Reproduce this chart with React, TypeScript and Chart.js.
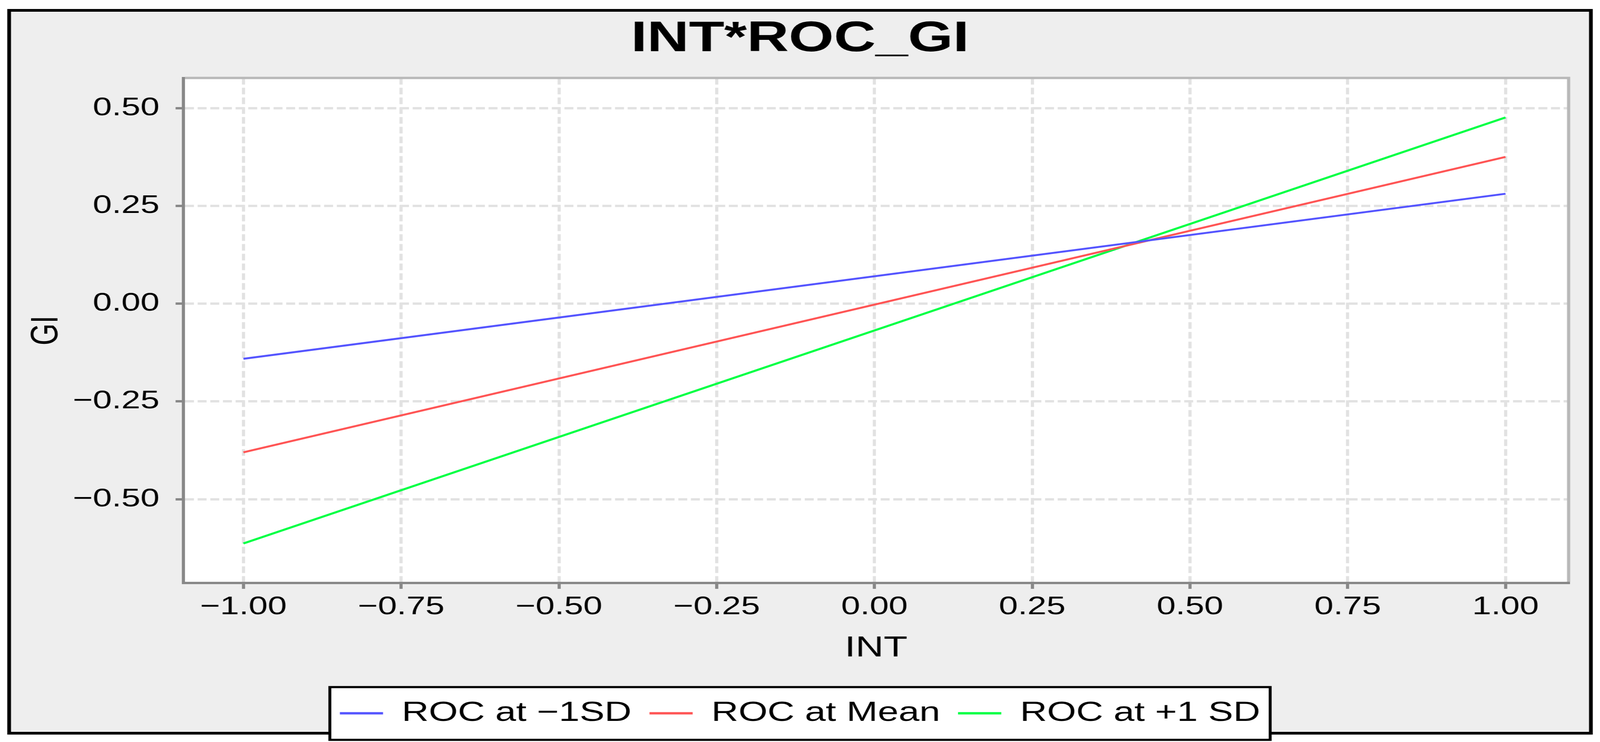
import React, { useEffect, useRef } from 'react';
import { Chart, registerables } from 'chart.js';

Chart.register(...registerables);

// ---------- data ----------
const chartTitle = 'INT*ROC_GI';
const xAxisTitle = 'INT';
const yAxisTitle = 'GI';
const intValues = [-1, 1];
const seriesNames = ['ROC at \u22121SD', 'ROC at Mean', 'ROC at +1 SD'];
const rocMinus1SD = [-0.141, 0.281];
const rocMean = [-0.38, 0.375];
const rocPlus1SD = [-0.613, 0.476];
const seriesColors = ['#5555ff', '#ff5555', '#00ff44'];
const xTickValues = [-1, -0.75, -0.5, -0.25, 0, 0.25, 0.5, 0.75, 1];
const yTickValues = [-0.5, -0.25, 0, 0.25, 0.5];
const xRange = [-1.095, 1.1];
const yRange = [-0.714, 0.577];

// ---------- drawing constants ----------
const CANVAS_W = 3036;
const CANVAS_H = 1899;
const FONT = "'Liberation Sans', Arial, sans-serif";

const fmt = (v: number) => (v < 0 ? '\u2212' : '') + Math.abs(v).toFixed(2);

const decorPlugin = {
  id: 'decor',
  beforeDraw(chart: any) {
    const { ctx, width, height, chartArea: a } = chart;
    ctx.save();
    ctx.fillStyle = '#ffffff';
    ctx.fillRect(0, 0, width, height);
    // outer frame
    ctx.fillStyle = '#eeeeee';
    ctx.fillRect(17.3, 26.5, 3001.4, 1850);
    ctx.lineWidth = 7;
    ctx.strokeStyle = '#000000';
    ctx.strokeRect(17.3, 26.5, 3001.4, 1850);
    // plot background
    ctx.fillStyle = '#ffffff';
    ctx.fillRect(a.left, a.top, a.right - a.left, a.bottom - a.top);
    // legend frame
    const hb = chart.legend && chart.legend.legendHitBoxes;
    if (hb && hb.length) {
      const l = Math.min(...hb.map((h: any) => h.left)) - 19;
      const r = Math.max(...hb.map((h: any) => h.left + h.width)) + 19;
      const t = hb[0].top - 31.5;
      const b = hb[0].top + 103.5;
      ctx.fillStyle = '#ffffff';
      ctx.fillRect(l, t, r - l, b - t);
      ctx.lineWidth = 5.5;
      ctx.strokeStyle = '#000000';
      ctx.strokeRect(l, t, r - l, b - t);
    }
    ctx.restore();
  },
  beforeDatasetsDraw(chart: any) {
    const { ctx, chartArea: a } = chart;
    ctx.save();
    ctx.strokeStyle = '#b8b8b8';
    ctx.lineWidth = 6;
    ctx.beginPath();
    ctx.moveTo(a.left + 3, a.top);
    ctx.lineTo(a.right, a.top);
    ctx.lineTo(a.right, a.bottom - 3);
    ctx.stroke();
    ctx.restore();
  },
};

export default function App() {
  const ref = useRef<HTMLCanvasElement | null>(null);

  useEffect(() => {
    if (!ref.current) return;
    const series = [rocMinus1SD, rocMean, rocPlus1SD];
    const dpr = Math.max(1, (window.devicePixelRatio || 1) * (window.innerHeight / CANVAS_H));
    const chart = new Chart(ref.current, {
      type: 'line',
      data: {
        datasets: series.map((vals, i) => ({
          label: seriesNames[i],
          data: intValues.map((x, j) => ({ x, y: vals[j] })),
          borderColor: seriesColors[i],
          backgroundColor: seriesColors[i],
          borderWidth: 5,
          pointRadius: 0,
          tension: 0,
          fill: false,
        })),
      },
      options: {
        responsive: false,
        devicePixelRatio: dpr,
        animation: false,
        events: [],
        layout: { autoPadding: false, padding: { top: 0, left: 30, right: 30, bottom: 28 } },
        plugins: {
          tooltip: { enabled: false },
          title: {
            display: true,
            text: chartTitle,
            color: '#000000',
            font: { family: FONT, size: 110, weight: 'bold', lineHeight: 1.2 },
            padding: { top: 34.5, bottom: 33 },
          },
          legend: {
            display: true,
            position: 'bottom',
            align: 'center',
            labels: {
              color: '#000000',
              font: { family: FONT, size: 71 },
              padding: 34,
              boxWidth: 82,
              boxHeight: 6,
              generateLabels: (c: any) =>
                Chart.defaults.plugins.legend.labels.generateLabels(c).map((l: any, i: number) => ({
                  ...l,
                  fillStyle: seriesColors[i],
                  strokeStyle: seriesColors[i],
                  lineWidth: 0,
                })),
            },
          },
        },
        scales: {
          x: {
            type: 'linear',
            position: 'bottom',
            min: xRange[0],
            max: xRange[1],
            afterBuildTicks: (s: any) => {
              s.ticks = xTickValues.map((v) => ({ value: v }));
            },
            ticks: {
              callback: (v: any) => fmt(Number(v)),
              color: '#000000',
              font: { family: FONT, size: 65, lineHeight: 1.2 },
              padding: 8,
              maxRotation: 0,
              autoSkip: false,
            },
            grid: {
              color: '#e2e2e2',
              lineWidth: 6,
              tickLength: 15,
              tickColor: '#888888',
              tickWidth: 6,
              tickBorderDash: [],
            },
            border: { display: true, color: '#888888', width: 6, dash: [17, 8] },
            title: {
              display: true,
              text: xAxisTitle,
              color: '#000000',
              font: { family: FONT, size: 74, lineHeight: 1.2 },
              padding: { top: 14.1, bottom: 52.1 },
            },
          },
          y: {
            type: 'linear',
            position: 'left',
            min: yRange[0],
            max: yRange[1],
            afterBuildTicks: (s: any) => {
              s.ticks = yTickValues.map((v) => ({ value: v }));
            },
            ticks: {
              callback: (v: any) => fmt(Number(v)),
              color: '#000000',
              font: { family: FONT, size: 65, lineHeight: 1.2 },
              padding: 30.5,
              autoSkip: false,
            },
            grid: {
              color: '#e2e2e2',
              lineWidth: 6,
              tickLength: 15,
              tickColor: '#888888',
              tickWidth: 6,
              tickBorderDash: [],
            },
            border: { display: true, color: '#888888', width: 6, dash: [17, 7] },
            title: {
              display: true,
              text: yAxisTitle,
              color: '#000000',
              font: { family: FONT, size: 72, lineHeight: 1.2 },
              padding: { top: 16.4, bottom: -25.15 },
            },
          },
          y2: {
            type: 'linear',
            position: 'right',
            display: true,
            grid: { display: false, drawTicks: false },
            border: { display: false },
            ticks: { display: false },
            afterFit: (s: any) => {
              s.width = 29.6;
            },
          },
        },
      } as any,
      plugins: [decorPlugin],
    });
    return () => chart.destroy();
  }, []);

  return (
    <div
      style={{
        position: 'fixed',
        left: 0,
        top: 0,
        width: '100vw',
        height: '100vh',
        background: '#ffffff',
        overflow: 'hidden',
      }}
    >
      <canvas
        ref={ref}
        width={CANVAS_W}
        height={CANVAS_H}
        style={{ width: '100vw', height: '100vh', display: 'block' }}
      />
    </div>
  );
}
